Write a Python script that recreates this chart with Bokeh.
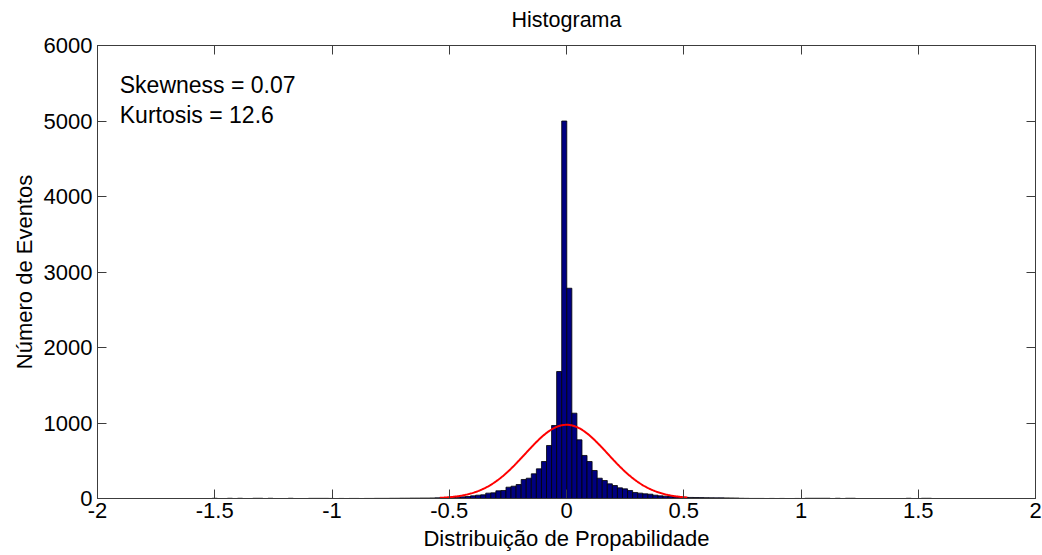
import numpy as np
from bokeh.plotting import figure
from bokeh.models import ColumnDataSource, LinearAxis, FixedTicker, CustomJSTickFormatter, Range1d
from bokeh.core.properties import value
from bokeh.embed import file_html
from bokeh.resources import INLINE

# ---------------- data ----------------
title_text = "Histograma"
x_label = "Distribuição de Propabilidade"
y_label = "Número de Eventos"
x_ticks = [-2, -1.5, -1, -0.5, 0, 0.5, 1, 1.5, 2]
y_ticks = [0, 1000, 2000, 3000, 4000, 5000, 6000]
annotations = ["Skewness = 0.07", "Kurtosis = 12.6"]
annot_x = [-1.905, -1.905]
annot_y = [5477, 5079]

# histogram: equal-width bins, first bin centred at bin_first_center
bin_first_center = -1.5
bin_width = 0.0216
counts = [
    3, 0, 0, 3, 0, 3, 0, 0, 3, 3,
    0, 3, 0, 0, 0, 3, 0, 0, 0, 2,
    2, 2, 2, 1, 0, 1, 0, 1, 1, 0,
    1, 1, 2, 2, 2, 3, 3, 4, 4, 5,
    5, 6, 6, 7, 9, 13, 13, 18, 18, 22,
    26, 35, 44, 49, 71, 75, 102, 106, 150, 163,
    185, 252, 269, 327, 393, 490, 702, 967, 1682,
    5000,
    2785, 1130, 777, 570, 490, 371, 269, 238, 194, 172,
    141, 128, 106, 80, 71, 62, 57, 44, 35, 31,
    26, 22, 18, 15, 14, 13, 12, 11, 10, 9,
    9, 8, 7, 6, 3, 2, 1, 1, 1, 0,
    1, 0, 1, 0, 0, 1, 0, 3, 3, 3,
    3, 3, 0, 3, 0, 3, 3, 0, 0, 0,
    0, 0, 0, 0, 0, 0, 0, 3, 0, 0,
    3, 3,
]

# fitted normal curve (histfit)
fit_mu = 0.0
fit_sigma = 0.176
fit_peak = 976
fit_x_min = -0.54
fit_x_max = 0.515

# ---------------- build ----------------
FONT = "Liberation Sans"
AXIS_COLOR = "#3c3c3c"

centers = bin_first_center + bin_width * np.arange(len(counts))
cnt = np.array(counts, dtype=float)
mask = cnt > 0
bars = ColumnDataSource(dict(x=centers[mask], top=cnt[mask]))

fx = np.linspace(fit_x_min, fit_x_max, 300)
fy = fit_peak * np.exp(-0.5 * ((fx - fit_mu) / fit_sigma) ** 2)
curve = ColumnDataSource(dict(x=fx, y=fy))

p = figure(width=1042, height=555, output_backend="svg", toolbar_location=None,
           x_range=Range1d(-2, 2), y_range=Range1d(0, 6000),
           min_border_left=97, min_border_right=7, min_border_top=45, min_border_bottom=57)
p.background_fill_color = "white"
p.border_fill_color = "white"
p.outline_line_color = AXIS_COLOR
p.grid.visible = False

p.vbar(x="x", top="top", bottom=0, width=bin_width, source=bars,
       fill_color="#000080", line_color="black", line_width=0.8)
p.line(x="x", y="y", source=curve, line_color="#ff0000", line_width=2)

p.text(x=annot_x, y=annot_y, text=annotations, text_font=value(FONT),
       text_font_size=value("23px"), text_baseline="middle", text_align="left",
       text_color="black")

fmt = CustomJSTickFormatter(code="return tick.toString();")
empty = CustomJSTickFormatter(code="return '';")


def style(ax):
    ax.axis_line_color = AXIS_COLOR
    ax.major_tick_line_color = AXIS_COLOR
    ax.major_tick_in = 9
    ax.major_tick_out = 0
    ax.minor_tick_line_color = None
    ax.major_label_text_font = FONT
    ax.major_label_text_font_size = "22px"
    ax.major_label_text_color = "black"
    ax.axis_label_text_font = FONT
    ax.axis_label_text_font_size = "22px"
    ax.axis_label_text_font_style = "normal"
    ax.axis_label_text_color = "black"


xa = p.xaxis[0]
xa.ticker = FixedTicker(ticks=x_ticks)
xa.formatter = fmt
xa.axis_label = x_label
style(xa)
xa.major_label_standoff = 4
xa.axis_label_standoff = 5

ya = p.yaxis[0]
ya.ticker = FixedTicker(ticks=y_ticks)
ya.formatter = fmt
ya.axis_label = y_label
style(ya)
ya.major_label_standoff = 5
ya.axis_label_standoff = 4

# top edge of the box: inward ticks, no numbers, chart title as its label
top_ax = LinearAxis(ticker=FixedTicker(ticks=x_ticks), formatter=empty, axis_label=title_text)
style(top_ax)
top_ax.major_label_standoff = 0
top_ax.axis_label_text_font_size = "21.5px"
top_ax.axis_label_standoff = 14
p.add_layout(top_ax, "above")

right_ax = LinearAxis(ticker=FixedTicker(ticks=y_ticks), formatter=empty)
style(right_ax)
right_ax.major_label_standoff = 0
p.add_layout(right_ax, "right")

open("out.html", "w").write(file_html(p, INLINE))
